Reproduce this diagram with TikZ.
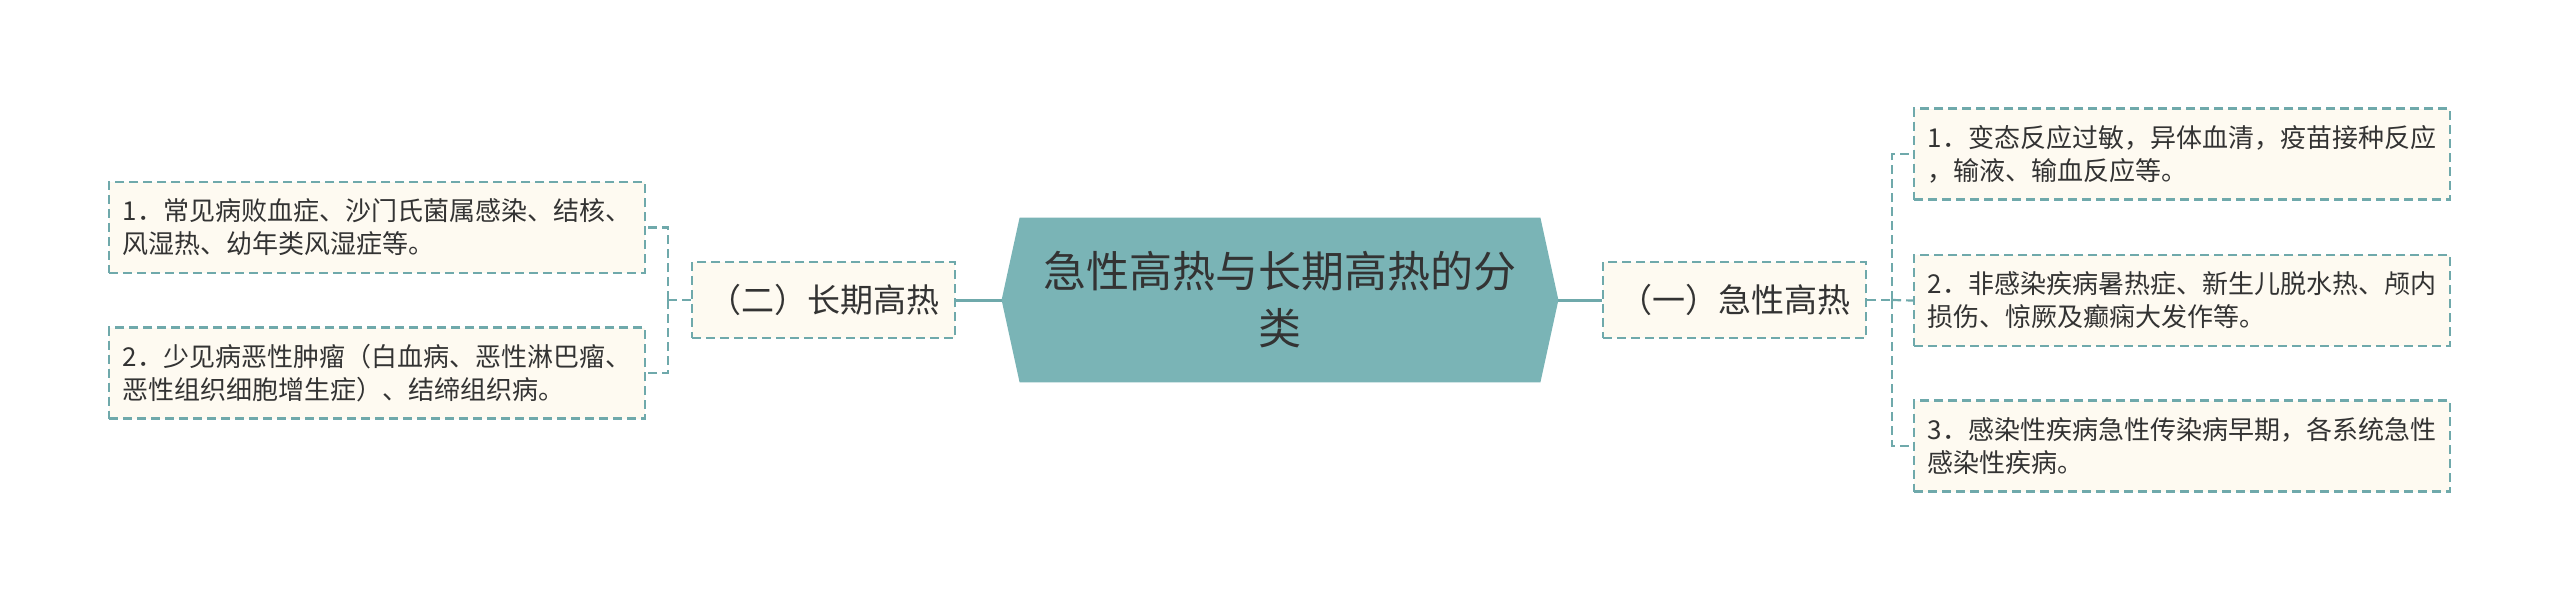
\documentclass[tikz,border=0pt]{standalone}
\usepackage{fontspec}
\newfontfamily\cjk{Noto Sans CJK SC}
\usetikzlibrary{backgrounds,calc}
\definecolor{teal1}{HTML}{7AB4B6}
\definecolor{teal2}{HTML}{6FA9AB}
\definecolor{cream}{HTML}{FEFAF1}
\definecolor{txt}{HTML}{333333}
\tikzset{
  titlebox/.style={inner sep=0pt, minimum width=260pt, minimum height=82pt, align=center, text=txt,
    font=\cjk\fontsize{21.5pt}{28.5pt}\selectfont},
  keybox/.style={draw=teal2, fill=cream, line width=1.1pt, dash pattern=on 4.5pt off 2.5pt,
    inner sep=0pt, minimum width=131.5pt, minimum height=38pt, text=txt,
    font=\cjk\fontsize{16.5pt}{20pt}\selectfont},
  leafbox/.style={draw=teal2, fill=cream, line width=1.1pt, dash pattern=on 4.5pt off 2.5pt,
    inner sep=0pt, minimum width=268pt, minimum height=45.5pt, align=left, text=txt,
    font=\cjk\fontsize{13pt}{16.5pt}\selectfont},
  solidlink/.style={draw=teal2, line width=1.5pt},
  dashlink/.style={draw=teal2, line width=1.1pt, dash pattern=on 4.5pt off 2.5pt},
}
\begin{document}
\begin{tikzpicture}[x=0.5pt, y=-0.5pt]
\useasboundingbox (0,0) rectangle (2560,602);

% central topic
\node[titlebox] (title) at (1280,300) {急性高热与长期高热的分\\类};
\coordinate (hexL) at ([xshift=-9pt]title.west);
\coordinate (hexR) at ([xshift=9pt]title.east);
\begin{pgfonlayer}{background}
\fill[white] (0,0) rectangle (2560,602);
\fill[teal1] (title.north west) -- (title.north east) -- (hexR) -- (title.south east)
  -- (title.south west) -- (hexL) -- cycle;
\end{pgfonlayer}

% main branches
\node[keybox] (lk) at (823.5,300) {（二）长期高热};
\node[keybox] (rk) at (1734.5,300) {（一）急性高热};

% leaves left
\node[leafbox] (L1) at (377,227.5) {1．常见病败血症、沙门氏菌属感染、结核、\\风湿热、幼年类风湿症等。};
\node[leafbox] (L2) at (377,373) {2．少见病恶性肿瘤（白血病、恶性淋巴瘤、\\恶性组织细胞增生症）、结缔组织病。};

% leaves right
\node[leafbox] (R1) at (2182,154) {1．变态反应过敏，异体血清，疫苗接种反应\\，输液、输血反应等。};
\node[leafbox] (R2) at (2182,300.5) {2．非感染疾病暑热症、新生儿脱水热、颅内\\损伤、惊厥及癫痫大发作等。};
\node[leafbox] (R3) at (2182,446) {3．感染性疾病急性传染病早期，各系统急性\\感染性疾病。};

% connectors
\draw[solidlink] (hexL) -- (lk.east);
\draw[solidlink] (hexR) -- (rk.west);

\coordinate (lj) at (668,300);
\coordinate (rj) at (1892,300);
\draw[dashlink] (lk.west) -- (lj);
\draw[dashlink] (lj) |- (L1.east);
\draw[dashlink] (lj) |- (L2.east);
\draw[dashlink] (rk.east) -- (rj);
\draw[dashlink] (rj) |- (R1.west);
\draw[dashlink] (rj) -- (R2.west);
\draw[dashlink] (rj) |- (R3.west);
\end{tikzpicture}
\end{document}
